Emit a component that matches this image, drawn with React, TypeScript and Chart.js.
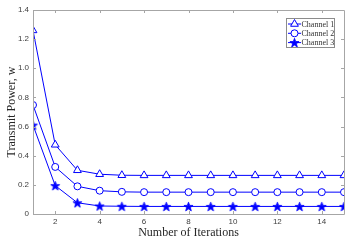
import React, { useEffect, useRef } from 'react';
import { Chart, registerables } from 'chart.js';

Chart.register(...registerables);

const iterations = [1, 2, 3, 4, 5, 6, 7, 8, 9, 10, 11, 12, 13, 14, 15];
const channel1 = [1.26, 0.475, 0.3, 0.273, 0.266, 0.265, 0.265, 0.265, 0.265, 0.265, 0.265, 0.265, 0.265, 0.265, 0.265];
const channel2 = [0.748, 0.323, 0.19, 0.16, 0.152, 0.15, 0.15, 0.15, 0.15, 0.15, 0.15, 0.15, 0.15, 0.15, 0.15];
const channel3 = [0.61, 0.195, 0.077, 0.055, 0.053, 0.052, 0.052, 0.052, 0.052, 0.052, 0.052, 0.052, 0.052, 0.052, 0.052];
const seriesLabels = ['Channel 1', 'Channel 2', 'Channel 3'];
const xTicks = [2, 4, 6, 8, 10, 12, 14];
const yTicks = [0, 0.2, 0.4, 0.6, 0.8, 1, 1.2, 1.4];

const BLUE = '#0000ff';
const AXIS = '#a6a6a6';
const TEXT = '#404040';

function starPath(ctx: CanvasRenderingContext2D, cx: number, cy: number, R: number, r: number) {
  ctx.beginPath();
  for (let i = 0; i < 10; i++) {
    const rad = (Math.PI / 5) * i;
    const rr = i % 2 === 0 ? R : r;
    const x = cx + Math.sin(rad) * rr;
    const y = cy - Math.cos(rad) * rr;
    if (i === 0) ctx.moveTo(x, y);
    else ctx.lineTo(x, y);
  }
  ctx.closePath();
}

function makeStar(): HTMLCanvasElement {
  const c = document.createElement('canvas');
  c.width = 11;
  c.height = 11;
  const ctx = c.getContext('2d')!;
  starPath(ctx, 5.5, 6, 4.8, 2);
  ctx.fillStyle = BLUE;
  ctx.fill();
  ctx.strokeStyle = BLUE;
  ctx.lineWidth = 0.8;
  ctx.stroke();
  return c;
}

function drawMarker(ctx: CanvasRenderingContext2D, kind: number, x: number, y: number) {
  ctx.save();
  ctx.strokeStyle = BLUE;
  ctx.fillStyle = '#ffffff';
  ctx.lineWidth = 1;
  if (kind === 0) {
    const r = 4.5;
    ctx.beginPath();
    let rad = 0;
    ctx.moveTo(x + Math.sin(rad) * r, y - Math.cos(rad) * r);
    rad += (2 * Math.PI) / 3;
    ctx.lineTo(x + Math.sin(rad) * r, y - Math.cos(rad) * r);
    rad += (2 * Math.PI) / 3;
    ctx.lineTo(x + Math.sin(rad) * r, y - Math.cos(rad) * r);
    ctx.closePath();
    ctx.fill();
    ctx.stroke();
  } else if (kind === 1) {
    ctx.beginPath();
    ctx.arc(x, y, 3.5, 0, Math.PI * 2);
    ctx.fill();
    ctx.stroke();
  } else {
    starPath(ctx, x, y + 0.5, 4.8, 2);
    ctx.fillStyle = BLUE;
    ctx.fill();
    ctx.lineWidth = 0.8;
    ctx.stroke();
  }
  ctx.restore();
}

const framePlugin = {
  id: 'frame',
  afterDraw(chart: any) {
    const { ctx, chartArea } = chart;
    const { left, right, top, bottom } = chartArea;
    const xs = chart.scales.x;
    const ys = chart.scales.y;
    ctx.save();
    ctx.strokeStyle = AXIS;
    ctx.lineWidth = 1;
    ctx.beginPath();
    ctx.rect(Math.round(left) + 0.5, Math.round(top) + 0.5, Math.round(right - left), Math.round(bottom - top));
    ctx.stroke();
    const tl = 3;
    ctx.beginPath();
    xTicks.forEach((v) => {
      const px = Math.round(xs.getPixelForValue(v)) + 0.5;
      ctx.moveTo(px, bottom);
      ctx.lineTo(px, bottom - tl);
      ctx.moveTo(px, top);
      ctx.lineTo(px, top + tl);
    });
    yTicks.forEach((v) => {
      const py = Math.round(ys.getPixelForValue(v)) + 0.5;
      ctx.moveTo(left, py);
      ctx.lineTo(left + tl, py);
      ctx.moveTo(right, py);
      ctx.lineTo(right - tl, py);
    });
    ctx.stroke();

    // legend
    const lx = 286.5;
    const ly = 18.5;
    const lw = 48;
    const lh = 29;
    ctx.fillStyle = '#ffffff';
    ctx.fillRect(lx, ly, lw, lh);
    ctx.strokeStyle = '#8c8c8c';
    ctx.strokeRect(lx, ly, lw, lh);
    ctx.font = '8px "Liberation Serif", "Times New Roman", serif';
    ctx.textBaseline = 'middle';
    ctx.textAlign = 'left';
    seriesLabels.forEach((lab, i) => {
      const y = 24 + i * 9.3;
      ctx.strokeStyle = BLUE;
      ctx.lineWidth = 1;
      ctx.beginPath();
      ctx.moveTo(288, y);
      ctx.lineTo(301, y);
      ctx.stroke();
      drawMarker(ctx, i, 294.5, y);
      ctx.fillStyle = '#333333';
      ctx.fillText(lab, 301.5, y + 0.5);
    });
    ctx.restore();
  },
};

export default function App() {
  const ref = useRef<HTMLCanvasElement | null>(null);
  useEffect(() => {
    document.body.style.margin = '0';
    const star = makeStar();
    const mk = (label: string, data: number[], style: any, radius: number) => ({
      label,
      data: iterations.map((x, i) => ({ x, y: data[i] })),
      borderColor: BLUE,
      borderWidth: 1,
      pointStyle: style,
      pointRadius: radius,
      pointBorderColor: BLUE,
      pointBackgroundColor: '#ffffff',
      pointBorderWidth: 1,
      fill: false,
      tension: 0,
    });
    const chart = new Chart(ref.current!, {
      type: 'line',
      data: {
        datasets: [
          mk(seriesLabels[0], channel1, 'triangle', 4.5),
          mk(seriesLabels[1], channel2, 'circle', 3.5),
          mk(seriesLabels[2], channel3, star, 5),
        ],
      },
      options: {
        animation: false,
        responsive: true,
        maintainAspectRatio: false,
        layout: { padding: { top: 10, right: 16, left: 0, bottom: 0 } },
        plugins: { legend: { display: false }, tooltip: { enabled: false } },
        scales: {
          x: {
            type: 'linear',
            min: 1,
            max: 15,
            afterFit: (s: any) => {
              s.height = 33;
            },
            afterBuildTicks: (s: any) => {
              s.ticks = xTicks.map((v) => ({ value: v }));
            },
            grid: { display: false, drawTicks: false, tickLength: 0 },
            border: { display: false },
            ticks: {
              color: TEXT,
              padding: 3,
              maxRotation: 0,
              font: { size: 8, family: '"Liberation Sans", Arial, sans-serif' },
            },
            title: {
              display: true,
              text: 'Number of Iterations',
              color: '#262626',
              padding: { top: 0, bottom: 7 },
              font: { size: 12, family: '"Liberation Serif", "Times New Roman", serif' },
            },
          },
          y: {
            type: 'linear',
            min: 0,
            max: 1.4,
            afterFit: (s: any) => {
              s.width = 33;
            },
            afterBuildTicks: (s: any) => {
              s.ticks = yTicks.map((v) => ({ value: v }));
            },
            grid: { display: false, drawTicks: false, tickLength: 0 },
            border: { display: false },
            ticks: {
              color: TEXT,
              padding: 4,
              font: { size: 8, family: '"Liberation Sans", Arial, sans-serif' },
            },
            title: {
              display: true,
              text: 'Transmit Power, w',
              color: '#262626',
              padding: { top: 5, bottom: 0 },
              font: { size: 12, family: '"Liberation Serif", "Times New Roman", serif' },
            },
          },
        },
      },
      plugins: [framePlugin],
    });
    return () => chart.destroy();
  }, []);
  return (
    <div style={{ width: 360, height: 247, position: 'relative' }}>
      <canvas ref={ref} />
    </div>
  );
}
